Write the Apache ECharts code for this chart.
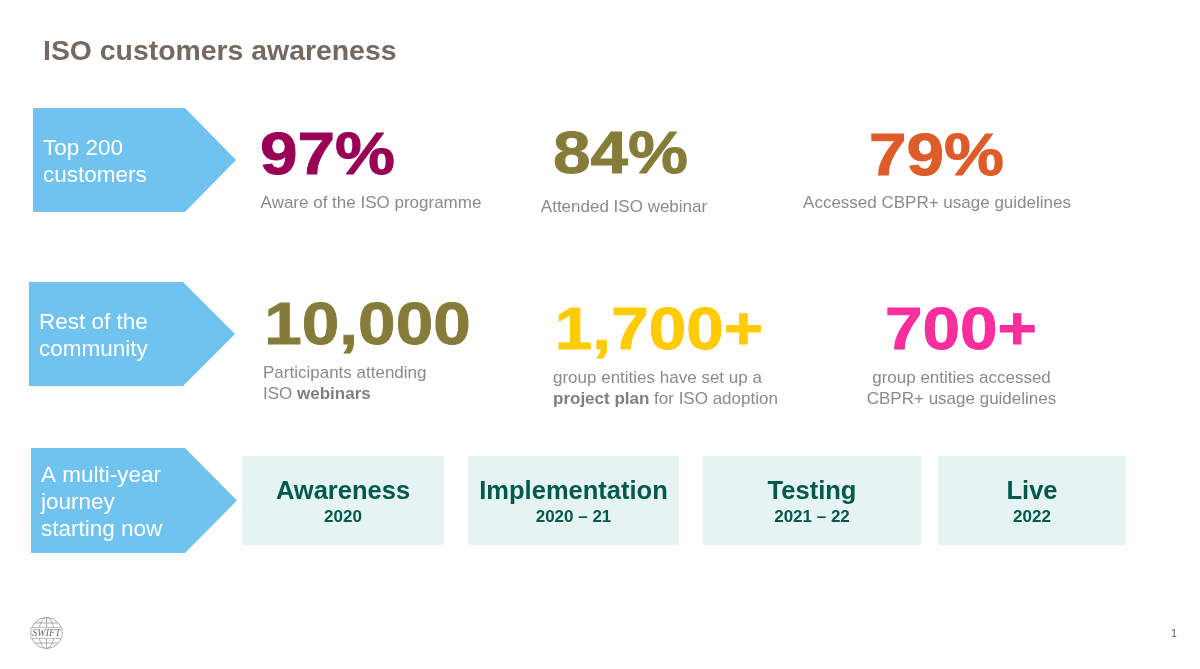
<!DOCTYPE html>
<html style="height: 100%">
<head>
    <meta charset="UTF-8">
    <style type="text/css">
        html, body { margin: 0; background: #fff; }
    </style>
</head>
<body style="height: 100%; margin: 0">
    <div id="container" style="width: 1200px; height: 669px"></div>
    <script type="text/javascript" src="https://cdn.jsdelivr.net/npm/echarts@6/dist/echarts.min.js"></script>
    <script type="text/javascript">
    // slide content
    var title = 'ISO customers awareness';
    var rowLabels = [
        'Top 200\ncustomers',
        'Rest of the\ncommunity',
        'A multi-year\njourney\nstarting now'
    ];
    var statValues = ['97%', '84%', '79%', '10,000', '1,700+', '700+'];
    var statNotes = [
        'Aware of the ISO programme',
        'Attended ISO webinar',
        'Accessed CBPR+ usage guidelines',
        'Participants attending\nISO {b|webinars}',
        'group entities have set up a\n{b|project plan} for ISO adoption',
        'group entities accessed\nCBPR+ usage guidelines'
    ];
    var stages = ['Awareness', 'Implementation', 'Testing', 'Live'];
    var stageYears = ['2020', '2020 – 21', '2021 – 22', '2022'];
    var logoText = 'SWIFT';
    var pageNumber = '1';

    // layout, same order as the arrays above
    var arrowBox = [
        { x0: 33, x1: 185, tip: 236, top: 108, bottom: 212, textX: 43 },
        { x0: 29, x1: 183, tip: 235, top: 282, bottom: 386, textX: 39 },
        { x0: 31, x1: 185, tip: 237, top: 448, bottom: 553, textX: 41 }
    ];
    var statPos = [
        { x: 327.5, y: 158, noteX: 371, noteY: 203, align: 'center', color: '#990055' },
        { x: 620.5, y: 157, noteX: 624, noteY: 207, align: 'center', color: '#857c3a' },
        { x: 936.5, y: 159, noteX: 937, noteY: 203, align: 'center', color: '#dd5c2a' },
        { x: 367.5, y: 328, noteX: 263, noteY: 384, align: 'left', color: '#857c3a' },
        { x: 659, y: 333, noteX: 553, noteY: 389, align: 'left', color: '#ffcb05' },
        { x: 961, y: 333, noteX: 961.5, noteY: 389, align: 'center', color: '#f82e9c' }
    ];
    var stageBox = [
        { x: 242, w: 202 },
        { x: 468, w: 211 },
        { x: 703, w: 218 },
        { x: 938, w: 188 }
    ];

    var font = 'Liberation Sans';
    var elements = [];

    elements.push({
        type: 'text', x: 43, y: 52,
        style: { text: title, fontFamily: font, fontSize: 28.4, fontWeight: 'bold', fill: '#76695f', verticalAlign: 'middle' }
    });

    rowLabels.forEach(function (label, i) {
        var a = arrowBox[i];
        elements.push({
            type: 'polygon',
            shape: { points: [[a.x0, a.top], [a.x1, a.top], [a.tip, (a.top + a.bottom) / 2], [a.x1, a.bottom], [a.x0, a.bottom]] },
            style: { fill: '#70c3ef' }
        });
        elements.push({
            type: 'text', x: a.textX, y: (a.top + a.bottom) / 2 + 2,
            style: { text: label, fontFamily: font, fontSize: 22.5, lineHeight: 27, fill: '#fff', verticalAlign: 'middle' }
        });
    });

    statValues.forEach(function (value, i) {
        var p = statPos[i];
        // the reference digits are a little flatter than the font's, the stroke gives back the weight
        elements.push({
            type: 'text', x: p.x, y: p.y, scaleY: 0.87,
            style: { text: value, fontFamily: font, fontSize: 67.5, fontWeight: 'bold', fill: p.color, stroke: p.color, lineWidth: 1, align: 'center', verticalAlign: 'middle' }
        });
        elements.push({
            type: 'text', x: p.noteX, y: p.noteY,
            style: {
                text: statNotes[i], fontFamily: font, fontSize: 17, lineHeight: 20.5, fill: '#8a8a8a',
                align: p.align, verticalAlign: 'middle',
                rich: { b: { fontFamily: font, fontSize: 17, fontWeight: 'bold', fill: '#7f7f7f', lineHeight: 20.5 } }
            }
        });
    });

    stages.forEach(function (stage, i) {
        var b = stageBox[i];
        elements.push({
            type: 'rect',
            shape: { x: b.x, y: 456, width: b.w, height: 89 },
            style: { fill: '#e5f3f2' }
        });
        elements.push({
            type: 'text', x: b.x + b.w / 2, y: 492,
            style: { text: stage, fontFamily: font, fontSize: 25.5, fontWeight: 'bold', fill: '#00594c', align: 'center', verticalAlign: 'middle' }
        });
        elements.push({
            type: 'text', x: b.x + b.w / 2, y: 517,
            style: { text: stageYears[i], fontFamily: font, fontSize: 17, fontWeight: 'bold', fill: '#00594c', align: 'center', verticalAlign: 'middle' }
        });
    });

    // globe logo
    var globeLine = { fill: 'none', stroke: '#a5a19c', lineWidth: 0.9 };
    elements.push({ type: 'circle', shape: { cx: 46.5, cy: 633, r: 15.5 }, style: globeLine });
    elements.push({ type: 'ellipse', shape: { cx: 46.5, cy: 633, rx: 7.5, ry: 15.5 }, style: globeLine });
    elements.push({ type: 'line', shape: { x1: 46.5, y1: 617.5, x2: 46.5, y2: 648.5 }, style: globeLine });
    elements.push({ type: 'line', shape: { x1: 35, y1: 623, x2: 58, y2: 623 }, style: globeLine });
    elements.push({ type: 'line', shape: { x1: 35, y1: 643, x2: 58, y2: 643 }, style: globeLine });
    elements.push({
        type: 'rect', shape: { x: 31, y: 627.5, width: 31, height: 11 },
        style: { fill: '#fff', stroke: '#a5a19c', lineWidth: 0.7 }
    });
    elements.push({
        type: 'text', x: 46.5, y: 633.5,
        style: { text: logoText, fontFamily: 'Liberation Serif', fontStyle: 'italic', fontSize: 10, fill: '#6e6a65', align: 'center', verticalAlign: 'middle' }
    });

    elements.push({
        type: 'text', x: 1174, y: 634,
        style: { text: pageNumber, fontFamily: font, fontSize: 10, fill: '#555', align: 'center', verticalAlign: 'middle' }
    });

    var myChart = echarts.init(document.getElementById('container'));
    var option = {
        backgroundColor: '#fff',
        animation: false,
        graphic: { elements: elements }
    };
    myChart.setOption(option);
    </script>
</body>
</html>
